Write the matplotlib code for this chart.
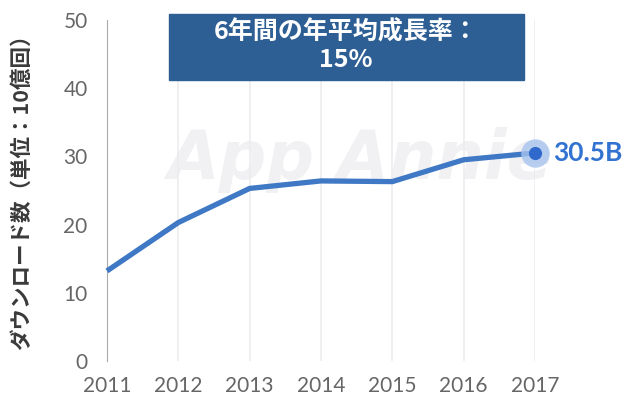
import matplotlib
matplotlib.use("Agg")
import matplotlib.pyplot as plt

plt.rcParams['font.family'] = ['Lato', 'Noto Sans CJK JP', 'DejaVu Sans']

# data
years = [2011, 2012, 2013, 2014, 2015, 2016, 2017]
downloads = [13.2, 20.3, 25.3, 26.4, 26.3, 29.5, 30.5]
yticks = [0, 10, 20, 30, 40, 50]
ylabel = 'ダウンロード数（単位：10億回）'
box_text = '6年間の年平均成長率：\n15%'
end_label = '30.5B'

line_col = '#3f78c4'

fig = plt.figure(figsize=(6.32, 4.01), dpi=100)
ax = fig.add_axes([0.1693, 0.0998, 0.6772, 0.8504])

ax.set_xlim(years[0], years[-1])
ax.set_ylim(0, 50)

# watermark
ax.text(0.59, 0.59, 'App Annie', transform=ax.transAxes, ha='center', va='center',
        fontsize=48, style='italic', fontweight='bold', color='#f1f1f3', zorder=0,
        family='DejaVu Sans')

ax.plot(years, downloads, color=line_col, lw=3.8, solid_capstyle='butt', zorder=3, clip_on=False)
ax.scatter([years[-1]], [downloads[-1]], s=420, color='#a8c3ee', alpha=0.8, zorder=4, clip_on=False, linewidths=0)
ax.scatter([years[-1]], [downloads[-1]], s=90, color='#2f69cc', zorder=5, clip_on=False, linewidths=0)
ax.annotate(end_label, (years[-1], downloads[-1]), xytext=(13, 0), textcoords='offset points',
            ha='left', va='center', fontsize=19, fontweight='bold', color='#3272d0')

ax.set_xticks(years)
ax.set_yticks(yticks)
ax.tick_params(length=0, labelsize=15, colors='#666666')
ax.tick_params(axis='y', pad=14)
ax.tick_params(axis='x', pad=11)
ax.grid(axis='x', color='#ececef', lw=1.2)
ax.set_axisbelow(True)
for s in ['top', 'right', 'bottom']:
    ax.spines[s].set_visible(False)
ax.spines['left'].set_color('#aaaaaa')

ax.set_ylabel(ylabel, fontsize=15.5, fontweight='bold', color='#3a3a3a',
              family=['Noto Sans CJK JP', 'DejaVu Sans'])
ax.yaxis.set_label_coords(-0.175, 0.51)

# CAGR box
fig.patches.append(plt.Rectangle((169 / 632, 1 - 80 / 401), 355 / 632, 66 / 401,
                                 transform=fig.transFigure, color='#2d5f95', zorder=6))
fig.text(346 / 632, 1 - 46 / 401, box_text, ha='center', va='center', color='white',
         fontsize=18, fontweight='bold', linespacing=1.15,
         family=['Noto Sans CJK JP', 'DejaVu Sans'], zorder=7)

fig.savefig('out.png', dpi=100)
